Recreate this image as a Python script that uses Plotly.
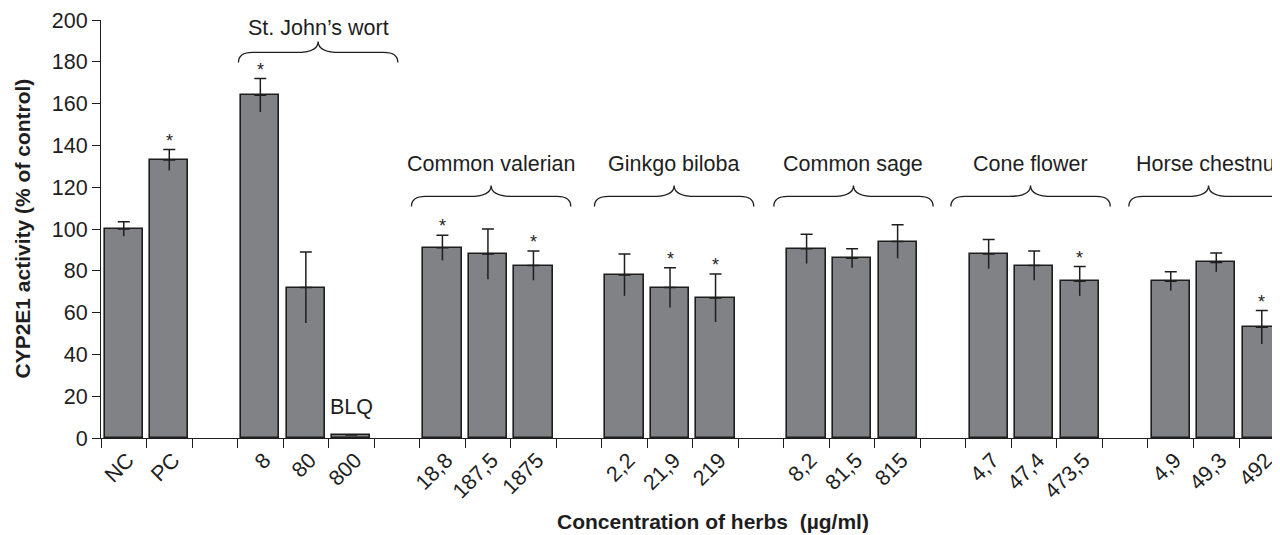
import plotly.graph_objects as go

# ---------------- data ----------------
labels = ["NC", "PC",
          "8", "80", "800",
          "18,8", "187,5", "1875",
          "2,2", "21,9", "219",
          "8,2", "81,5", "815",
          "4,7", "47,4", "473,5",
          "4,9", "49,3", "492"]
values = [100, 133,
          164, 72, 1.4,
          91, 88, 82.5,
          78, 72, 67,
          90.5, 86, 94,
          88, 82.5, 75,
          75, 84, 53]
errors = [3.5, 5,
          8, 17, 0,
          6, 12, 7,
          10, 9.5, 11.5,
          7, 4.5, 8,
          7, 7, 7,
          4.5, 4.5, 8]
significant = [0, 1,
               1, 0, 0,
               1, 0, 1,
               0, 1, 1,
               0, 0, 0,
               0, 0, 1,
               0, 0, 1]
group_sizes = [2, 3, 3, 3, 3, 3, 3]
herb_names = ["", "St. John\u2019s wort", "Common valerian", "Ginkgo biloba",
              "Common sage", "Cone flower", "Horse chestnut"]
blq_index = 4

# ---------------- layout helpers ----------------
# positions: one empty slot between groups
xpos = []
group_centers = []
p = 0
for gi, n in enumerate(group_sizes):
    start = p
    for k in range(n):
        xpos.append(p)
        p += 1
    group_centers.append((start + p - 1) / 2)
    p += 1  # gap slot

brace_end_y = [None, 179.7, 110.8, 110.8, 110.8, 110.8, 110.8]
label_y = [None, 196, 131.3, 131.3, 131.3, 131.3, 131.3]
brace_shift = [0, 0.27, 0.07, 0.09, 0.03, -0.08, -0.17]

DARK = "#1e1e1e"
GRAY = "#818286"
FONT = "Liberation Sans, Arial, Helvetica, sans-serif"
FS = 21.5

fig = go.Figure()

fig.add_trace(go.Bar(
    x=xpos, y=values, width=0.84,
    marker=dict(color=GRAY, line=dict(color=DARK, width=1.6)),
    error_y=dict(type="data", array=errors, arrayminus=[0] * len(errors),
                 symmetric=False, color=DARK, thickness=1.5, width=6),
    showlegend=False, hoverinfo="skip",
))
# lower half of error bars (no cap), drawn inside bars
fig.add_trace(go.Scatter(
    x=xpos, y=values, mode="markers",
    marker=dict(size=1, color="rgba(0,0,0,0)"),
    error_y=dict(type="data", array=[0] * len(errors), arrayminus=errors,
                 symmetric=False, color=DARK, thickness=1.5, width=0),
    showlegend=False, hoverinfo="skip",
))

annotations = []
# asterisks
for x, v, e, s in zip(xpos, values, errors, significant):
    if s:
        annotations.append(dict(x=x, y=v + e, xref="x", yref="y", text="*",
                                showarrow=False, yanchor="bottom", yshift=-3,
                                font=dict(size=18, color=DARK, family=FONT)))
# BLQ
annotations.append(dict(x=xpos[blq_index], y=values[blq_index], xref="x", yref="y",
                        text="BLQ", showarrow=False, yanchor="bottom", yshift=14,
                        font=dict(size=FS, color=DARK, family=FONT)))

shapes = []
ppu = 418 / 200.0  # px per y unit
spx = 45.5         # px per slot
for gi, name in enumerate(herb_names):
    if not name:
        continue
    xc = group_centers[gi] + brace_shift[gi]
    half = 1.75
    x0, x1 = xc - half, xc + half
    ye = brace_end_y[gi]
    yh = ye + 10 / ppu
    yc = ye + 21 / ppu
    r = 14 / spx
    rc = 22 / spx
    path = (f"M {x0},{ye} Q {x0},{yh} {x0 + r},{yh} "
            f"L {xc - rc},{yh} Q {xc},{yh} {xc},{yc} "
            f"Q {xc},{yh} {xc + rc},{yh} "
            f"L {x1 - r},{yh} Q {x1},{yh} {x1},{ye}")
    shapes.append(dict(type="path", path=path, xref="x", yref="y",
                       line=dict(color=DARK, width=1.3)))
    annotations.append(dict(x=xc, y=label_y[gi], xref="x", yref="y", text=name,
                            showarrow=False, yanchor="middle",
                            font=dict(size=FS, color=DARK, family=FONT)))

# axis titles
annotations.append(dict(x=-0.0662, y=0.501, xref="paper", yref="paper",
                        text="<b>CYP2E1 activity (% of control)</b>", textangle=-90,
                        showarrow=False, xanchor="center", yanchor="middle",
                        font=dict(size=21, color=DARK, family=FONT)))
annotations.append(dict(x=0.519, y=-0.1986, xref="paper", yref="paper",
                        text="<b>Concentration of herbs  (\u00b5g/ml)</b>",
                        showarrow=False, xanchor="center", yanchor="middle",
                        font=dict(size=21, color=DARK, family=FONT)))

# the page body adds an 8px margin: figure is placed at (8, 8)
fig.update_layout(
    width=1272, height=527,
    margin=dict(l=93, r=0, t=12, b=97),
    paper_bgcolor="white", plot_bgcolor="white",
    font=dict(family=FONT, size=FS, color=DARK),
    bargap=0,
    shapes=shapes, annotations=annotations,
    xaxis=dict(range=[-0.5, 25.4], tickvals=xpos, ticktext=labels,
               tickangle=-45, ticks="", showgrid=False, zeroline=False,
               showline=True, linecolor=DARK, linewidth=1.2,
               ticklabelshift=4,
               tickfont=dict(size=FS, family=FONT, color=DARK),
               minor=dict(tick0=-0.5, dtick=1, ticks="outside", ticklen=9,
                          tickcolor=DARK, tickwidth=1.2, showgrid=False)),
    yaxis=dict(range=[0, 200], dtick=20, ticks="outside", ticklen=8,
               tickwidth=1.2, tickcolor=DARK, showgrid=False, zeroline=False,
               showline=True, linecolor=DARK, linewidth=1.2,
               tickfont=dict(size=FS, family=FONT, color=DARK)),
)

fig.write_html("out.html")
